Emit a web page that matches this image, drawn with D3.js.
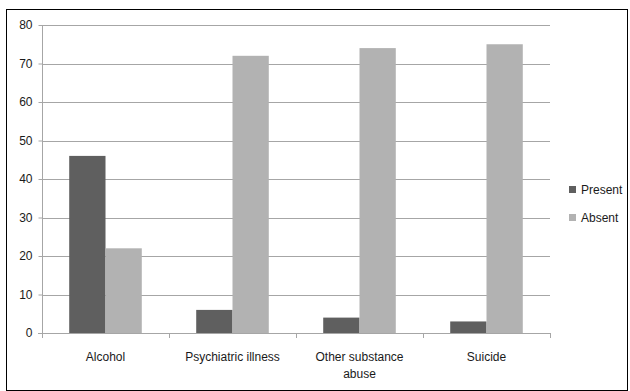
<!DOCTYPE html>
<html>
<head>
<meta charset="utf-8">
<script src="https://cdn.jsdelivr.net/npm/d3@7"></script>
<style>
  html, body { margin: 0; padding: 0; background: #fff; }
  svg { display: block; }
  text { font-family: "Liberation Sans", Arial, sans-serif; fill: #1a1a1a; }
</style>
</head>
<body>
<svg id="chart" width="630" height="391"></svg>
<script>
// Data
const categories = ["Alcohol", "Psychiatric illness", "Other substance abuse", "Suicide"];
const seriesNames = ["Present", "Absent"];
const present = [46, 6, 4, 3];
const absent = [22, 72, 74, 75];
const yTicks = [0, 10, 20, 30, 40, 50, 60, 70, 80];
const colors = ["#5f5f5f", "#b2b2b2"];

const svg = d3.select("#chart");

// Outer frame
svg.append("rect")
  .attr("x", 6.5).attr("y", 9.5)
  .attr("width", 621).attr("height", 381)
  .attr("fill", "#fff").attr("stroke", "#000").attr("stroke-width", 1);

const plot = { left: 42, right: 550, top: 25, bottom: 333 };

const x0 = d3.scaleBand().domain(categories).range([plot.left, plot.right]).padding(0);
const x1 = d3.scaleBand().domain(seriesNames).range([0, x0.bandwidth()])
  .paddingInner(0).paddingOuter(0.75);
const y = d3.scaleLinear().domain([0, 80]).range([plot.bottom, plot.top]);

// Gridlines
svg.append("g").selectAll("line").data(yTicks.filter(d => d > 0)).join("line")
  .attr("x1", plot.left).attr("x2", plot.right)
  .attr("y1", d => Math.round(y(d)) + 0.5).attr("y2", d => Math.round(y(d)) + 0.5)
  .attr("stroke", "#a6a6a6").attr("stroke-width", 1);

// Bars
const rows = categories.map((c, i) => ({ cat: c, vals: [present[i], absent[i]] }));
const groups = svg.append("g").selectAll("g").data(rows).join("g")
  .attr("transform", d => `translate(${x0(d.cat)},0)`);
groups.selectAll("rect").data(d => d.vals.map((v, j) => ({ key: seriesNames[j], v, j })))
  .join("rect")
  .attr("x", d => x1(d.key))
  .attr("width", x1.bandwidth())
  .attr("y", d => y(d.v))
  .attr("height", d => y(0) - y(d.v))
  .attr("fill", d => colors[d.j]);

// Y axis
const yAxis = d3.axisLeft(y).tickValues(yTicks).tickSize(4).tickPadding(6);
const gy = svg.append("g").attr("transform", `translate(${plot.left + 0.5},0)`).call(yAxis);
gy.select(".domain").attr("stroke", "#a6a6a6").attr("d", `M0,${plot.top}V${plot.bottom + 0.5}`);
gy.selectAll(".tick line").attr("stroke", "#a6a6a6");
gy.selectAll(".tick text").style("font-size", "12px").attr("fill", "#1a1a1a");

// X axis baseline and category dividers
const gx = svg.append("g");
gx.append("line")
  .attr("x1", plot.left - 4).attr("x2", plot.right)
  .attr("y1", plot.bottom + 0.5).attr("y2", plot.bottom + 0.5)
  .attr("stroke", "#a6a6a6");
gx.selectAll("line.div").data(categories.concat([null])).join("line")
  .attr("class", "div")
  .attr("x1", (d, i) => Math.round(plot.left + i * x0.step()) + 0.5)
  .attr("x2", (d, i) => Math.round(plot.left + i * x0.step()) + 0.5)
  .attr("y1", plot.bottom).attr("y2", plot.bottom + 5)
  .attr("stroke", "#a6a6a6");

// Category labels (wrap long ones)
const wrapped = {
  "Other substance abuse": ["Other substance", "abuse"]
};
const labels = gx.selectAll("text.cat").data(categories).join("text")
  .attr("class", "cat")
  .attr("x", d => x0(d) + x0.bandwidth() / 2)
  .attr("y", plot.bottom + 28)
  .attr("text-anchor", "middle")
  .style("font-size", "12px");
labels.each(function(d) {
  const lines = wrapped[d] || [d];
  d3.select(this).selectAll("tspan").data(lines).join("tspan")
    .attr("x", x0(d) + x0.bandwidth() / 2)
    .attr("dy", (l, i) => i === 0 ? 0 : 17)
    .text(l => l);
});

// Legend
const legend = svg.append("g").attr("transform", "translate(569,184)");
const li = legend.selectAll("g").data(seriesNames).join("g")
  .attr("transform", (d, i) => `translate(0,${i * 28})`);
li.append("rect").attr("width", 7).attr("height", 7).attr("y", 2)
  .attr("fill", (d, i) => colors[i]);
li.append("text").attr("x", 12).attr("y", 10).style("font-size", "12px").text(d => d);
</script>
</body>
</html>
